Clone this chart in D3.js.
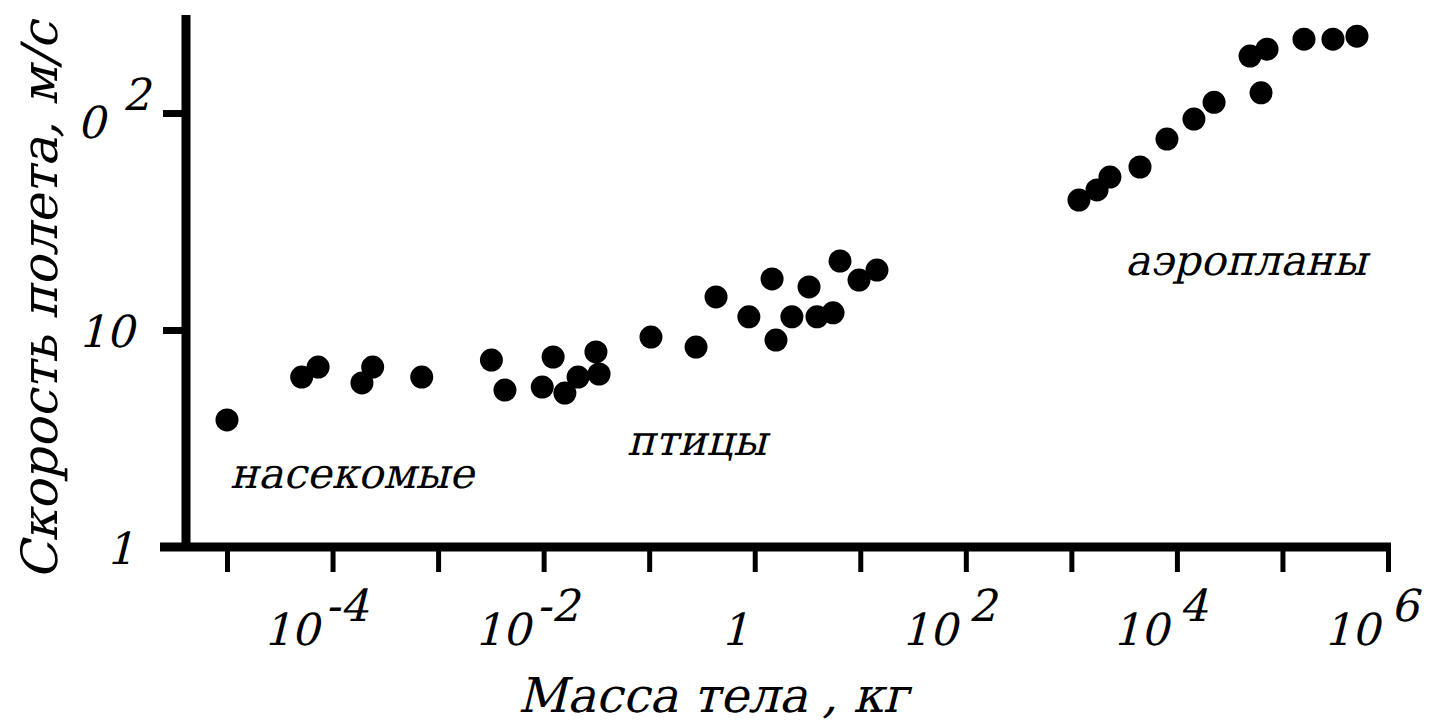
<!DOCTYPE html>
<html>
<head>
<meta charset="utf-8">
<script src="https://cdn.jsdelivr.net/npm/d3@7"></script>
<style>
    body { margin: 0; background: #fff; }
    svg text { font-family: "DejaVu Serif", serif; fill: #000; }
</style>
</head>
<body>
<div class="chart"></div>
<script>
// flight speed vs body mass (log-log)
const insectMass = [1.0e-5, 5.1e-5, 7.3e-5, 1.9e-4, 2.4e-4, 7.0e-4]
const insectSpeed = [3.85, 6.07, 6.75, 5.70, 6.75, 6.07]

const birdMass = [3.2e-3, 4.3e-3, 9.7e-3, 1.23e-2, 1.59e-2, 2.12e-2, 3.13e-2, 3.35e-2,
    0.104, 0.278, 0.43, 0.88, 1.46, 1.59, 2.25, 3.27, 3.89, 5.52, 6.43, 9.73, 14.4]
const birdSpeed = [7.27, 5.29, 5.46, 7.51, 5.12, 6.07, 7.92, 6.27,
    9.28, 8.35, 14.2, 11.5, 17.2, 8.99, 11.5, 15.8, 11.5, 12.0, 20.8, 17.0, 18.9]

const planeMass = [1180, 1750, 2320, 4470, 8050, 14500, 22500, 49300, 71400, 62700, 160000, 301000, 508000]
const planeSpeed = [39.7, 44.2, 50.7, 56.4, 75.9, 93.8, 112, 183, 197, 124, 219, 219, 226]

const xTicks = [1e-5, 1e-4, 1e-3, 1e-2, 1e-1, 1, 10, 1e2, 1e3, 1e4, 1e5, 1e6]
const xLabelValues = [1e-4, 1e-2, 1, 1e2, 1e4, 1e6]
const xLabelBase = ["10", "10", "1", "10", "10", "10"]
const xLabelExp = ["-4", "-2", "", "2", "4", "6"]

const yTicks = [10, 100]
const yLabelValues = [1, 10, 100]
const yLabelBase = ["1", "10", "0"]
const yLabelExp = ["", "", "2"]

const groupNames = ["насекомые", "птицы", "аэропланы"]
const xTitle = "Масса тела , кг"
const yTitle = "Скорость полета, м/с"

const width = 1431
const height = 723
const slant = "skewX(-14)"
const fontSize = 44

const svg = d3.select(".chart")
    .append("svg")
    .attr("width", width)
    .attr("height", height)

const x = d3.scaleLog().domain([1e-5, 1e6]).range([227, 1388])
const y = d3.scaleLog().domain([1, 283]).range([547, 15])

const x0 = 186   // where the y axis stands
const y0 = y(1)  // where the x axis stands

//x axis ticks
svg.append("g")
    .attr("transform", `translate(0, ${y0})`)
    .call(d3.axisBottom(x).tickValues(xTicks).tickSize(25).tickFormat(""))
    .call(g => g.select(".domain").remove())
    .selectAll(".tick line")
    .attr("stroke", "#000")
    .attr("stroke-width", 5)

//y axis ticks
svg.append("g")
    .attr("transform", `translate(${x0}, 0)`)
    .call(d3.axisLeft(y).tickValues(yTicks).tickSize(23).tickFormat(""))
    .call(g => g.select(".domain").remove())
    .selectAll(".tick line")
    .attr("stroke", "#000")
    .attr("stroke-width", 7)

//axis lines
svg.append("line")
    .attr("x1", x0 - 26).attr("x2", x(1e6) + 3)
    .attr("y1", y0).attr("y2", y0)
    .attr("stroke", "#000").attr("stroke-width", 9)
svg.append("line")
    .attr("x1", x0).attr("x2", x0)
    .attr("y1", y.range()[1]).attr("y2", y0)
    .attr("stroke", "#000").attr("stroke-width", 9)

//x tick labels
xLabelValues.forEach((v, i) => {
    const t = svg.append("text")
        .attr("transform", `translate(${x(v) - 20}, 645) ${slant}`)
        .attr("text-anchor", "middle")
        .style("font-size", fontSize + "px")
    t.append("tspan").text(xLabelBase[i])
    if (xLabelExp[i]) {
        t.append("tspan")
            .attr("dx", xLabelExp[i][0] == "-" ? 0 : 5)
            .attr("dy", -24)
            .text(xLabelExp[i])
    }
})

//y tick labels
yLabelValues.forEach((v, i) => {
    const t = svg.append("text")
        .attr("transform", `translate(${yLabelExp[i] ? 143 : 134}, ${y(v) + (yLabelExp[i] ? 25 : 17)}) ${slant}`)
        .attr("text-anchor", "end")
        .style("font-size", fontSize + "px")
    t.append("tspan").text(yLabelBase[i])
    if (yLabelExp[i]) {
        t.append("tspan")
            .attr("dx", 10)
            .attr("dy", -28)
            .text(yLabelExp[i])
    }
})

//points
const points = []
insectMass.forEach((m, i) => points.push([m, insectSpeed[i]]))
birdMass.forEach((m, i) => points.push([m, birdSpeed[i]]))
planeMass.forEach((m, i) => points.push([m, planeSpeed[i]]))

svg.append("g")
    .selectAll("circle")
    .data(points)
    .join("circle")
    .attr("cx", d => x(d[0]))
    .attr("cy", d => y(d[1]))
    .attr("r", 11.5)
    .attr("fill", "#000")

//group names, anchored in data space
const groupAnchors = [[1.07e-5, 1.87], [0.0617, 2.65], [3220, 17.9]]
groupNames.forEach((name, i) => {
    svg.append("text")
        .attr("transform", `translate(${x(groupAnchors[i][0])}, ${y(groupAnchors[i][1])}) ${slant}`)
        .style("font-size", "42px")
        .text(name)
})

//axis titles
svg.append("text")
    .attr("transform", `translate(713, 712) ${slant}`)
    .attr("text-anchor", "middle")
    .style("font-size", "48px")
    .text(xTitle)

svg.append("text")
    .attr("transform", `translate(57, 580) rotate(-90) ${slant}`)
    .style("font-size", "50px")
    .text(yTitle)
</script>
</body>
</html>
